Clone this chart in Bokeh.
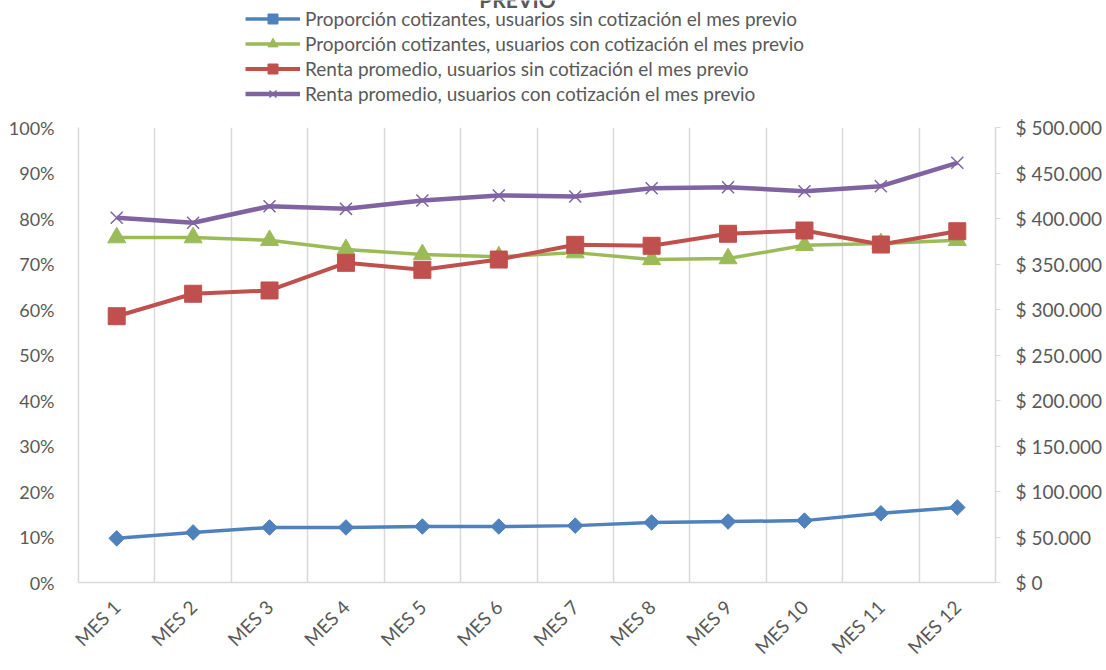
from bokeh.plotting import figure
from bokeh.layouts import column
from bokeh.models import (Range1d, LinearAxis, FixedTicker, Legend, LegendItem, Label)
from bokeh.embed import file_html
from bokeh.resources import INLINE
import math

categories = ["MES 1", "MES 2", "MES 3", "MES 4", "MES 5", "MES 6",
              "MES 7", "MES 8", "MES 9", "MES 10", "MES 11", "MES 12"]
prop_sin = [0.097, 0.110, 0.121, 0.121, 0.123, 0.123, 0.125, 0.132, 0.134, 0.136, 0.152, 0.165]
prop_con = [0.758, 0.758, 0.752, 0.732, 0.721, 0.716, 0.725, 0.710, 0.712, 0.741, 0.745, 0.752]
renta_sin = [292600, 317300, 320900, 351300, 343600, 354900, 371100, 370000, 383200, 386800, 371400, 386000]
renta_con = [400800, 395300, 413500, 410600, 419800, 425300, 424200, 433300, 434400, 430000, 435500, 461200]
left_ticks = [0, 0.1, 0.2, 0.3, 0.4, 0.5, 0.6, 0.7, 0.8, 0.9, 1.0]
right_ticks = [0, 50000, 100000, 150000, 200000, 250000, 300000, 350000, 400000, 450000, 500000]
labels = ["Proporción cotizantes, usuarios sin cotización el mes previo",
          "Proporción cotizantes, usuarios con cotización el mes previo",
          "Renta promedio, usuarios sin cotización el mes previo",
          "Renta promedio, usuarios con cotización el mes previo"]
title_tail = "PREVIO"

FONT = "Lato"
TXT = "#595959"
GRID = "#D9D9D9"
BLUE, GREEN, RED, PURPLE = "#4F81BD", "#9BBB59", "#C0504D", "#8064A2"
W, H = 1106, 670
HT = 110  # height of the legend strip
FRAME_LEFT = 78

x = list(range(1, len(categories) + 1))

# ---------- main chart ----------
p = figure(width=W, height=H - HT, output_backend="svg", toolbar_location=None,
           x_range=Range1d(0.5, len(categories) + 0.5), y_range=Range1d(0, 1),
           min_border_left=FRAME_LEFT, min_border_right=111, min_border_top=17, min_border_bottom=88)
p.outline_line_color = None
p.extra_y_ranges = {"renta": Range1d(0, 500000)}

p.xaxis.ticker = FixedTicker(ticks=x)
p.xaxis.major_label_overrides = {i: c for i, c in zip(x, categories)}
p.xaxis.major_label_orientation = math.pi / 4
p.yaxis.ticker = FixedTicker(ticks=left_ticks)
p.yaxis.major_label_overrides = {t: f"{round(t*100)}%" for t in left_ticks}

ra = LinearAxis(y_range_name="renta", ticker=FixedTicker(ticks=right_ticks))
ra.major_label_overrides = {t: ("$ 0" if t == 0 else "$ " + f"{t:,}".replace(",", ".")) for t in right_ticks}
p.add_layout(ra, "right")

for ax in [p.xaxis[0], p.yaxis[0], ra]:
    ax.axis_line_color = GRID
    ax.axis_line_width = 1.5
    ax.major_tick_line_color = None
    ax.minor_tick_line_color = None
    ax.major_label_text_font = FONT
    ax.major_label_text_font_size = "18px"
    ax.major_label_text_color = TXT
p.xaxis[0].major_label_text_font_size = "19px"
ra.major_label_text_font_size = "19px"
p.yaxis[0].major_label_standoff = 18
p.xaxis[0].major_label_standoff = 15
ra.major_tick_line_color = GRID
ra.major_tick_out = 5
ra.major_tick_in = 0
ra.major_label_standoff = 15

p.ygrid.grid_line_color = None
p.xgrid.ticker = FixedTicker(ticks=[i + 0.5 for i in x])
p.xgrid.grid_line_color = GRID
p.xgrid.grid_line_width = 1.5

styles = [
    dict(color=BLUE, lw=3.5, marker="square", angle=math.pi / 4, size=11, mlw=1),
    dict(color=GREEN, lw=3.5, marker="triangle", angle=0, size=18, mlw=1),
    dict(color=RED, lw=4, marker="square", angle=0, size=17, mlw=1),
    dict(color=PURPLE, lw=4.5, marker="x", angle=0, size=17, mlw=1.5),
]
series = [(prop_sin, "default"), (prop_con, "default"), (renta_sin, "renta"), (renta_con, "renta")]

for (vals, rng), st in zip(series, styles):
    p.line(x, vals, color=st["color"], line_width=st["lw"], y_range_name=rng)
    p.scatter(x, vals, marker=st["marker"], angle=st["angle"], size=st["size"],
              line_width=st["mlw"], color=st["color"], y_range_name=rng)

# ---------- legend strip (its frame is aligned with the chart's frame) ----------
lg = figure(width=W, height=HT, output_backend="svg", toolbar_location=None,
            x_range=Range1d(1000, 1001), y_range=Range1d(0, 1),
            x_axis_type=None, y_axis_type=None, min_border=0)
lg.outline_line_color = None
lg.grid.visible = False

items = []
for (vals, rng), lab, st in zip(series, labels, styles):
    # same series drawn out of this strip's view, only so the legend can show their glyphs
    r1 = lg.line(x, vals, color=st["color"], line_width=st["lw"])
    r2 = lg.scatter(x, vals, marker=st["marker"], angle=st["angle"], size=st["size"],
                    line_width=st["mlw"], color=st["color"])
    items.append(LegendItem(label=lab, renderers=[r1, r2]))

legend = Legend(items=items, location=(245 - FRAME_LEFT, 4), orientation="vertical")
legend.padding = 0
legend.margin = 0
legend.spacing = 0
legend.border_line_color = None
legend.background_fill_alpha = 0
legend.glyph_width = 55
legend.glyph_height = 25
legend.label_height = 25
legend.label_standoff = 5
legend.label_text_font = FONT
legend.label_text_font_size = "19px"
legend.label_text_color = TXT
lg.add_layout(legend, "center")

lg.add_layout(Label(x=517 - FRAME_LEFT, y=HT + 1, x_units="screen", y_units="screen", text=title_tail,
                    text_font=FONT, text_font_style="bold", text_font_size="21px",
                    text_color=TXT, text_align="center", text_baseline="alphabetic"))

layout = column(lg, p, spacing=0)
open("out.html", "w").write(file_html(layout, INLINE))
